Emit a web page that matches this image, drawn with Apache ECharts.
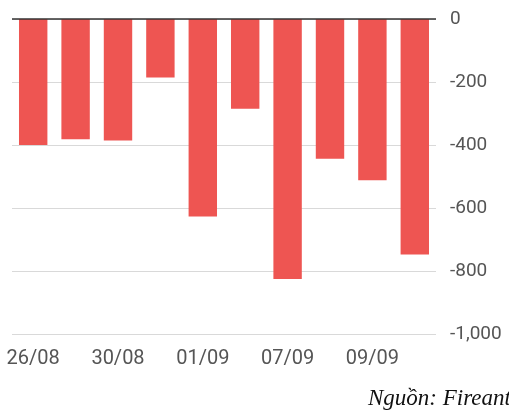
<!DOCTYPE html>
<html>
<head>
<meta charset="utf-8">
<script src="https://cdn.jsdelivr.net/npm/echarts@6/dist/echarts.min.js"></script>
<style>
  html, body { margin: 0; padding: 0; background: #fff; }
  #chart { width: 509px; height: 414px; }
</style>
</head>
<body>
<div id="chart"></div>
<script>
// ngày giao dịch
const days = ["26/08", "29/08", "30/08", "31/08", "01/09", "06/09", "07/09", "08/09", "09/09", "12/09"];
// giá trị (tỷ đồng)
const values = [-400, -382, -386, -186, -627, -285, -825, -444, -512, -748];
const yTicks = { min: -1000, max: 0, step: 200 };

const chart = echarts.init(document.getElementById("chart"));

chart.setOption({
  animation: false,
  backgroundColor: "#fff",
  grid: { left: 12, right: 73, top: 19, bottom: 80 },
  graphic: [{
    type: "text",
    x: 368,
    y: 399,
    style: {
      text: "Nguồn: Fireant",
      font: "italic 23px 'Liberation Serif', 'Times New Roman', serif",
      fill: "#111",
      verticalAlign: "middle"
    }
  }],
  xAxis: {
    type: "category",
    data: days,
    axisLine: { show: false },
    axisTick: { show: false },
    axisLabel: {
      interval: 1,
      color: "#555",
      fontSize: 20,
      fontFamily: "Roboto",
      margin: 15
    }
  },
  yAxis: {
    type: "value",
    position: "right",
    min: yTicks.min,
    max: yTicks.max,
    interval: yTicks.step,
    axisLine: { show: false },
    axisTick: { show: false },
    splitLine: { lineStyle: { color: "#d9d9d9", width: 1 } },
    axisLabel: {
      color: "#555",
      fontSize: 19,
      fontFamily: "Roboto",
      margin: 14,
      formatter: v => v.toLocaleString("en-US")
    }
  },
  series: [{
    type: "bar",
    data: values,
    barWidth: "67%",
    itemStyle: { color: "#ee5552" },
    markLine: {
      silent: true,
      symbol: "none",
      label: { show: false },
      lineStyle: { color: "#333", type: "solid", width: 1.5 },
      data: [{ yAxis: 0 }]
    },
    z: 2
  }]
});
</script>
</body>
</html>
